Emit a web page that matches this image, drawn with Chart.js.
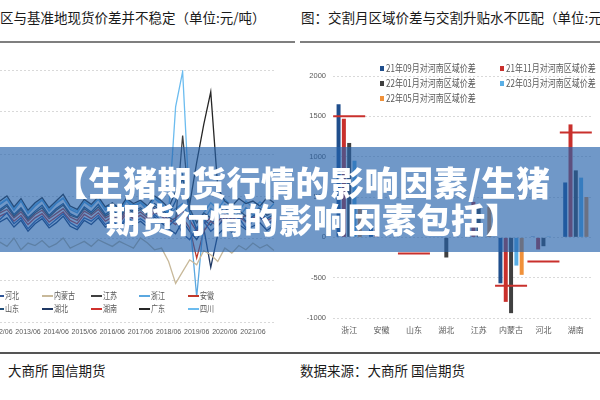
<!DOCTYPE html>
<html>
<head>
<meta charset="utf-8">
<script src="https://cdn.jsdelivr.net/npm/chart.js@4.4.1/dist/chart.umd.min.js"></script>
<style>
  html, body { margin: 0; padding: 0; }
  body {
    width: 600px; height: 400px; position: relative; overflow: hidden; background: #fff;
    font-family: 'Noto Sans CJK SC', 'Noto Sans', sans-serif;
  }
  .abs { position: absolute; }
  .title { font-size: 13.5px; color: #1a1a1a; white-space: nowrap; line-height: 1; }
  .rule { background: #7f7f7f; height: 2px; }
  .foot { font-size: 13.5px; color: #1a1a1a; white-space: nowrap; line-height: 1; }
  .band { left: 0; top: 147px; width: 600px; height: 105px; background: rgba(35, 97, 171, 0.65); }
  .headline { color: #fff; font-size: 34px; font-weight: 900; line-height: 1; white-space: nowrap; letter-spacing: 0.5px; }
  .lg { white-space: nowrap; line-height: 1; color: #595959; transform-origin: left center; }
</style>
</head>
<body>

<div class="abs title" style="left:0; top:11px;">区与基准地现货价差并不稳定（单位:元/吨）</div>
<div class="abs title" style="left:301px; top:11px;">图：交割月区域价差与交割升贴水不匹配（单位:元/吨）</div>
<div class="abs rule" style="left:0; top:41px; width:295px;"></div>
<div class="abs rule" style="left:300px; top:41px; width:300px;"></div>

<div class="abs" style="left:-70px; top:62px; width:350px; height:280px;"><canvas id="left"></canvas></div>
<div class="abs" style="left:300px; top:58px; width:310px; height:282px;"><canvas id="right"></canvas></div>
<div id="legends"></div>

<div class="abs rule" style="left:0; top:352px; width:600px; background:#555;"></div>
<div class="abs foot" style="left:8px; top:364px;">大商所 国信期货</div>
<div class="abs foot" style="left:300px; top:364px;">数据来源：大商所 国信期货</div>

<div class="abs band"></div>
<div class="abs headline" style="left:54px; top:165px;">【生猪期货行情的影响因素/生猪</div>
<div class="abs headline" style="left:106px; top:202px;">期货行情的影响因素包括】</div>

<script>
const FONT = "'Noto Sans CJK SC', 'Noto Sans', sans-serif";
const NUMFONT = "'Liberation Sans', 'Noto Sans', sans-serif";

// ---- left chart: regional spot spread vs base region (quarterly) ----
const quarters = ['2011/06','2011/09','2011/12','2012/03','2012/06','2012/09','2012/12','2013/03','2013/06','2013/09','2013/12',
  '2014/03','2014/06','2014/09','2014/12','2015/03','2015/06','2015/09','2015/12','2016/03','2016/06','2016/09','2016/12',
  '2017/03','2017/06','2017/09','2017/12','2018/03','2018/06','2018/09','2018/12','2019/03','2019/06','2019/09','2019/12',
  '2020/03','2020/06','2020/09','2020/12','2021/03','2021/06','2021/09','2021/12','2022/03'];

const regions = ['河北', '内蒙古', '江苏', '浙江', '安徽', '山东', '湖北', '湖南', '广东', '四川'];
const regionColors = ['#2f5597', '#c8b99a', '#404040', '#5ba8e0', '#c0392b', '#1f4e79', '#1f3864', '#d0312d', '#262626', '#6cbcef'];

const hebei = [-250,-310,-220,-360,-280,-200,-330,-260,-390,-300,-240,-350,-280,-210,-320,-370,-260,-300,-230,-340,
  -290,-380,-250,-310,-270,-330,-220,-300,-360,-280,-450,-520,-380,-300,-420,-350,-280,-330,-260,-380,-300,-250,-340,-290];
const neimenggu = [-520,-580,-480,-680,-550,-600,-500,-640,-560,-590,-530,-610,-570,-500,-620,-580,-540,-600,-520,-560,
  -600,-540,-580,-620,-500,-560,-640,-620,-780,-1040,-900,-760,-820,-650,-700,-780,-620,-680,-590,-640,-560,-620,-580,-650];
const jiangsu = [-150,-220,-100,-260,-180,-120,-240,-160,-280,-200,-140,-250,-170,-110,-230,-260,-150,-210,-130,-240,
  -190,-270,-140,-200,-160,-230,-120,-180,-250,-300,720,-150,-320,-200,-260,-180,-140,-220,-170,-240,-200,-150,-230,-180];
const zhejiang = [-80,-150,-20,-190,-100,-40,-170,-60,-210,-120,-50,-180,-90,-30,-160,-200,-70,-130,-40,-170,
  -110,-200,-60,-140,-80,-170,-30,-100,-220,-150,-90,-260,-1200,-300,-150,-220,-100,-180,-260,-140,-220,-120,-180,-90];
const anhui = [-180,-240,-150,-280,-200,-160,-260,-190,-300,-220,-170,-270,-210,-150,-250,-290,-180,-230,-160,-260,
  -220,-300,-170,-240,-190,-260,-150,-210,-280,-340,-260,-380,-740,-420,-300,-360,-250,-320,-280,-230,-300,-260,-340,-280];
const shandong = [-120,-200,-80,-240,-160,-100,-220,-140,-260,-180,-110,-230,-150,-90,-210,-250,-130,-190,-100,-220,
  -160,-240,-120,-180,-140,-210,-90,-150,-230,-60,250,-200,-400,-280,-350,-220,-180,-260,-200,-300,-240,-190,-270,-220];
const hubei = [-280,-340,-250,-390,-310,-260,-370,-290,-420,-330,-270,-380,-320,-240,-360,-400,-290,-340,-260,-370,
  -320,-400,-280,-350,-300,-370,-250,-320,-390,-450,-300,-420,-520,-380,-850,-460,-380,-430,-340,-400,-360,-320,-410,-350];
const hunan = [-220,-280,-190,-320,-240,-200,-300,-230,-340,-260,-210,-310,-250,-190,-290,-330,-220,-270,-200,-300,
  -250,-320,-210,-270,-230,-290,-190,-240,-310,-260,-180,-290,-420,-330,-260,-300,-220,-280,-240,-310,-260,-220,-290,-250];
const guangdong = [-40,-110,10,-150,-60,0,-130,-30,-170,-80,-20,-140,-60,20,-120,-160,-40,-100,-10,-130,
  -80,-150,-30,-90,-50,-120,0,-60,-140,50,200,-100,400,850,1240,100,-60,-120,-30,-90,-60,-120,-20,-80];
const sichuan = [-60,-130,-10,-170,-90,-30,-150,-50,-190,-100,-40,-160,-80,-20,-140,-180,-60,-120,-30,-150,
  -90,-170,-50,-110,-70,-140,-20,-80,-200,1060,1480,-150,-400,-200,-80,-160,-40,-120,-180,-60,-140,-70,-130,-200];
const regionSeries = [hebei, neimenggu, jiangsu, zhejiang, anhui, shandong, hubei, hunan, guangdong, sichuan];

// ---- right chart: delivery-month spread vs Henan, and delivery premium ----
const provinces = ['浙江', '安徽', '山东', '湖北', '江苏', '内蒙古', '河北', '湖南'];
const seriesNames = ['21年09月对河南区域价差', '21年11月对河南区域价差', '22年01月对河南区域价差', '22年03月对河南区域价差', '22年05月对河南区域价差'];
const seriesColors = ['#1f4e8c', '#c9302c', '#404040', '#5aafe6', '#f0913a'];
const diff2109 = [1650, 150, 0, 0, 0, -570, 10, 680];
const diff2111 = [1470, 100, 0, 0, 440, -800, -150, 1400];
const diff2201 = [1170, 0, 0, -250, 410, -940, -110, 830];
const diff2203 = [950, 0, 0, 0, 0, -350, 10, 740];
const diff2205 = [400, 0, 0, 0, 380, -465, 0, 500];
const premium = [1500, null, -200, null, null, -600, -300, 1300];
const diffSeries = [diff2109, diff2111, diff2201, diff2203, diff2205];

const GRID = { color: '#d9d9d9', lineWidth: 1, drawTicks: false };

new Chart(document.getElementById('left'), {
  type: 'line',
  data: {
    labels: quarters,
    datasets: regions.map((name, i) => ({
      label: name,
      data: regionSeries[i],
      borderColor: regionColors[i],
      borderWidth: 1.3,
      pointRadius: 0,
      tension: 0,
      fill: false,
    })),
  },
  options: {
    responsive: true,
    maintainAspectRatio: false,
    animation: false,
    layout: { padding: { top: 8, right: 1, left: 0, bottom: 0 } },
    plugins: { legend: { display: false }, tooltip: { enabled: false } },
    scales: {
      x: {
        grid: { display: false, drawTicks: false },
        border: { display: false },
        ticks: {
          autoSkip: false, maxRotation: 0, padding: 6, color: '#595959',
          font: { size: 7, family: NUMFONT },
          callback(v) {
            const l = this.getLabelForValue(v);
            return l.endsWith('/06') ? l : '';
          },
        },
        afterFit(s) { s.height = 20; },
      },
      y: {
        min: -1500, max: 1500,
        ticks: { display: false, stepSize: 500 },
        grid: GRID,
        border: { display: false, dash: [2, 2] },
        afterFit(s) { s.width = 41.8; },
      },
    },
  },
});

new Chart(document.getElementById('right'), {
  type: 'bar',
  data: {
    labels: provinces,
    datasets: [
      {
        type: 'line',
        label: '交割升贴水',
        data: premium,
        showLine: false,
        pointStyle: 'line',
        pointRadius: 16,
        pointHoverRadius: 16,
        pointBorderWidth: 2,
        pointBorderColor: '#c9302c',
        borderColor: '#c9302c',
        order: 0,
      },
      ...seriesNames.map((name, i) => ({
        label: name,
        data: diffSeries[i],
        backgroundColor: seriesColors[i],
        borderWidth: 0,
        categoryPercentage: 0.82,
        barPercentage: 0.75,
        order: 1,
      })),
    ],
  },
  options: {
    responsive: true,
    maintainAspectRatio: false,
    animation: false,
    layout: { padding: { top: 8, right: 0, left: 0, bottom: 0 } },
    plugins: { legend: { display: false }, tooltip: { enabled: false } },
    scales: {
      x: {
        grid: { display: false, drawTicks: false },
        border: { display: false },
        ticks: { padding: 7, color: '#595959', font: { size: 8, family: FONT } },
        afterFit(s) { s.height = 22; },
      },
      y: {
        min: -1000, max: 2000,
        ticks: {
          stepSize: 500, padding: 7, color: '#595959',
          font: { size: 7.5, family: NUMFONT },
          callback: v => String(v),
        },
        grid: GRID,
        border: { display: false, dash: [2, 2] },
        afterFit(s) { s.width = 33; },
      },
    },
  },
});

// HTML legends, placed like the originals
const legends = document.getElementById('legends');
regions.forEach((name, i) => {
  const x = -6.7 + (i % 5) * 48.7;
  const y = 296 + Math.floor(i / 5) * 13;
  const item = document.createElement('div');
  item.className = 'abs';
  item.style.cssText = `left:${x}px; top:${y - 6}px; height:12px;`;
  item.innerHTML =
    `<div class="abs" style="left:0; top:5px; width:11px; height:2px; background:${regionColors[i]};"></div>` +
    `<div class="abs lg" style="left:12px; top:1px; font-size:9px; transform:scaleX(0.78);">${name}</div>`;
  legends.appendChild(item);
});
seriesNames.forEach((name, i) => {
  const x = 380 + (i % 2) * 120;
  const y = 68 + Math.floor(i / 2) * 15;
  const item = document.createElement('div');
  item.className = 'abs';
  item.style.cssText = `left:${x}px; top:${y - 6}px; height:12px;`;
  item.innerHTML =
    `<div class="abs" style="left:0; top:3.5px; width:4px; height:5px; background:${seriesColors[i]};"></div>` +
    `<div class="abs lg" style="left:6px; top:1px; font-size:10px; transform:scaleX(0.8);">${name}</div>`;
  legends.appendChild(item);
});
</script>
</body>
</html>
